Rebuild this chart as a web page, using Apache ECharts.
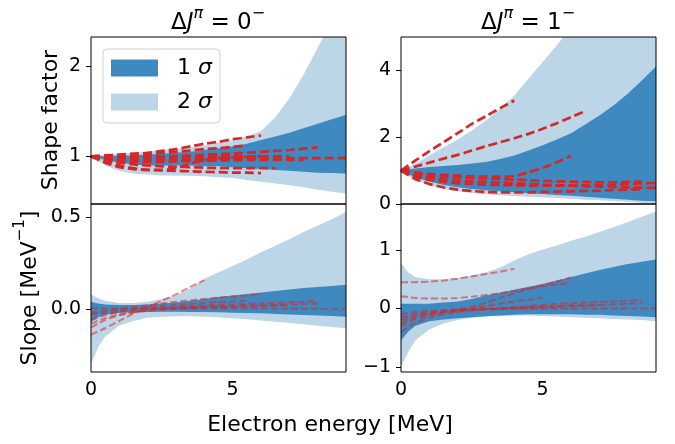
<!DOCTYPE html>
<html><head><meta charset="utf-8">
<script src="https://cdn.jsdelivr.net/npm/echarts@6/dist/echarts.min.js"></script>
<style>html,body{margin:0;padding:0;background:#fff}#c{width:675px;height:444px}</style>
</head><body><div id="c"></div>
<script>
// ---------- data ----------
const xBand = [0,0.25,0.5,1,1.5,2,2.5,3,3.5,4,4.5,5,5.5,6,6.5,7,7.5,8,8.5,9];
const xLine = [0,0.5,1,1.5,2,2.5,3,3.5,4,4.5,5,5.5,6,6.5,7,7.5,8,8.5,9];

// Delta J = 0-, shape factor
const tl2sHi = [1.0,1.01,1.02,1.03,1.04,1.05,1.07,1.08,1.1,1.12,1.15,1.18,1.22,1.28,1.43,1.64,1.9,2.2,2.5,2.85];
const tl2sLo = [1.0,0.95,0.9,0.84,0.81,0.8,0.79,0.79,0.785,0.78,0.77,0.76,0.74,0.72,0.7,0.68,0.66,0.63,0.61,0.59];
const tl1sHi = [1.0,1.0,1.0,1.01,1.01,1.02,1.03,1.04,1.05,1.07,1.09,1.11,1.14,1.18,1.22,1.26,1.31,1.36,1.41,1.46];
const tl1sLo = [1.0,0.98,0.96,0.93,0.91,0.9,0.9,0.9,0.9,0.89,0.89,0.88,0.87,0.86,0.85,0.84,0.83,0.82,0.815,0.81];
const tlLines = [
  [1.0,1.01,1.02,1.03,1.04,1.06,1.08,1.11,1.14,1.16,1.19,1.21,1.23],
  [1.0,1.005,1.01,1.02,1.03,1.04,1.05,1.065,1.08,1.09,1.105,1.12],
  [1.0,1.0,0.995,0.995,1.0,1.0,1.005,1.01,1.02,1.025,1.03,1.04,1.05,1.06,1.07,1.085,1.1],
  [1.0,0.98,0.97,0.965,0.965,0.965,0.965,0.965,0.97,0.97,0.97,0.975,0.975,0.975,0.98,0.98,0.98,0.98,0.98],
  [1.0,0.99,0.985,0.985,0.99,0.99,0.99,0.995,0.995,1.0,1.0,1.0,1.0,1.0,1.0],
  [1.0,0.97,0.95,0.94,0.94,0.94,0.945,0.95,0.95,0.955,0.955,0.96,0.96,0.96,0.96,0.96],
  [1.0,0.95,0.9,0.87,0.85,0.85,0.87,0.92,0.96,0.98,0.99,0.995,1.0],
  [1.0,0.96,0.93,0.91,0.9,0.89,0.885,0.88,0.875,0.87,0.87,0.87,0.87,0.87],
  [1.0,0.93,0.88,0.86,0.85,0.845,0.84,0.835,0.83,0.825,0.82,0.82,0.815]
];

// Delta J = 1-, shape factor
const tr2sHi = [1.0,1.1,1.2,1.45,1.7,1.93,2.2,2.5,2.85,3.25,3.75,4.25,4.75,5.3,5.9,6.5,7.1,7.8,8.5,9.2];
const tr2sLo = [1.0,0.84,0.72,0.56,0.45,0.38,0.33,0.29,0.26,0.24,0.22,0.2,0.18,0.16,0.13,0.11,0.09,0.07,0.04,0.02];
const tr1sHi = [1.0,1.03,1.06,1.11,1.14,1.17,1.21,1.26,1.35,1.45,1.6,1.76,1.93,2.12,2.38,2.65,2.95,3.3,3.7,4.12];
const tr1sLo = [1.0,0.89,0.8,0.67,0.57,0.5,0.45,0.41,0.38,0.35,0.32,0.3,0.27,0.25,0.22,0.19,0.16,0.13,0.1,0.08];
const trLines = [
  [1.0,1.3,1.58,1.85,2.12,2.4,2.63,2.87,3.1],
  [1.0,1.12,1.24,1.36,1.47,1.6,1.73,1.85,1.97,2.1,2.25,2.42,2.6,2.78],
  [1.0,0.95,0.9,0.87,0.85,0.83,0.82,0.82,0.84,0.95,1.08,1.25,1.44],
  [1.0,0.9,0.85,0.82,0.8,0.78,0.77,0.75,0.73,0.71,0.69,0.68,0.67,0.66,0.65,0.65,0.66,0.67],
  [1.0,0.85,0.78,0.73,0.7,0.68,0.66,0.64,0.62,0.6,0.58,0.56,0.55,0.53,0.52,0.51,0.5,0.49,0.48],
  [1.0,0.75,0.6,0.5,0.43,0.39,0.36,0.35,0.35,0.35,0.36,0.37,0.38,0.39,0.4,0.42,0.43,0.45],
  [1.0,0.82,0.72,0.66,0.62,0.6,0.58,0.57,0.56,0.55,0.55,0.55,0.55,0.56,0.57,0.58,0.6,0.62,0.63]
];

// Delta J = 0-, slope
const bl2sHi = [0.08,0.058,0.045,0.033,0.032,0.04,0.055,0.075,0.11,0.165,0.2,0.235,0.27,0.31,0.345,0.38,0.42,0.455,0.49,0.53];
const bl2sLo = [-0.3,-0.21,-0.15,-0.09,-0.065,-0.048,-0.042,-0.04,-0.04,-0.042,-0.045,-0.05,-0.056,-0.063,-0.07,-0.077,-0.084,-0.091,-0.098,-0.105];
const bl1sHi = [0.04,0.03,0.025,0.022,0.022,0.025,0.03,0.036,0.045,0.055,0.065,0.073,0.082,0.09,0.098,0.106,0.114,0.12,0.126,0.132];
const bl1sLo = [-0.07,-0.045,-0.032,-0.022,-0.018,-0.016,-0.015,-0.015,-0.016,-0.017,-0.018,-0.02,-0.022,-0.024,-0.027,-0.03,-0.033,-0.036,-0.039,-0.042];
const blLines = [
  [-0.14,-0.105,-0.065,-0.025,0.01,0.045,0.08,0.12,0.158],
  [-0.02,-0.01,0.0,0.01,0.02,0.03,0.04,0.048,0.055,0.062,0.068,0.074,0.08],
  [-0.06,-0.035,-0.015,-0.002,0.008,0.016,0.022,0.028,0.033,0.037,0.041,0.045],
  [-0.1,-0.06,-0.035,-0.018,-0.006,0.003,0.01,0.015,0.019,0.022,0.025,0.028,0.031,0.034,0.037,0.04,0.044],
  [0.004,0.003,0.003,0.003,0.003,0.003,0.003,0.003,0.003,0.003,0.003,0.003,0.002,0.002,0.002,0.002,0.001,0.001,0.0],
  [-0.03,-0.02,-0.01,-0.004,0.0,0.004,0.007,0.01,0.012,0.014,0.016,0.018,0.02,0.022,0.024,0.027,0.03],
  [-0.08,-0.05,-0.03,-0.018,-0.01,-0.004,0.0,0.004,0.007,0.01,0.012,0.014,0.016,0.018,0.02]
];

// Delta J = 1-, slope
const br2sHi = [0.78,0.62,0.54,0.5,0.5,0.52,0.56,0.62,0.7,0.82,0.93,1.01,1.08,1.16,1.23,1.31,1.39,1.48,1.57,1.66];
const br2sLo = [-1.0,-0.75,-0.55,-0.36,-0.26,-0.2,-0.16,-0.14,-0.13,-0.12,-0.12,-0.13,-0.14,-0.15,-0.16,-0.17,-0.18,-0.19,-0.2,-0.22];
const br1sHi = [0.08,0.08,0.08,0.08,0.1,0.12,0.16,0.22,0.27,0.32,0.37,0.42,0.48,0.54,0.6,0.66,0.71,0.76,0.8,0.84];
const br1sLo = [-0.55,-0.4,-0.3,-0.22,-0.19,-0.17,-0.15,-0.135,-0.12,-0.11,-0.1,-0.1,-0.1,-0.1,-0.11,-0.11,-0.12,-0.13,-0.14,-0.15];
const brLines = [
  [0.45,0.45,0.46,0.48,0.51,0.55,0.59,0.63,0.68],
  [0.21,0.18,0.17,0.17,0.18,0.2,0.23,0.26,0.3,0.34,0.38,0.41,0.44],
  [-0.2,-0.12,-0.08,-0.05,-0.02,0.03,0.1,0.18,0.26,0.33,0.4,0.46,0.53],
  [-0.3,-0.18,-0.12,-0.07,-0.03,0.0,0.04,0.08,0.12,0.15,0.18],
  [-0.15,-0.1,-0.07,-0.05,-0.03,-0.02,-0.01,0.0,0.02,0.04,0.06,0.08,0.09,0.1,0.11,0.12,0.13,0.15],
  [-0.1,-0.06,-0.04,-0.03,-0.02,-0.015,-0.01,-0.01,-0.005,-0.005,0.0,0.0,0.0,0.0,0.0,0.0,0.0,0.0,0.0],
  [-0.25,-0.15,-0.1,-0.07,-0.05,-0.03,-0.02,-0.01,0.0,0.01,0.02,0.03,0.04,0.05,0.06,0.07,0.08,0.09],
  [-0.4,-0.25,-0.16,-0.1,-0.06,-0.03,-0.01,0.0,0.01,0.02,0.03,0.04,0.05,0.05,0.06]
];

const xTicks = [0, 5];
const tlTicks = [1, 2];
const trTicks = [0, 2, 4];
const blTicks = [0, 0.5];
const brTicks = [-1, 0, 1];
const legendNames = ['1 σ', '2 σ'];

// ---------- styles ----------
const FONT = 'DejaVu Sans';
const C1 = '#3e8ac0';
const C2 = '#bcd6e8';
const RED = '#d62728';

function band(name, idx, lo, hi, color) {
  return {
    type: 'custom', name: name, xAxisIndex: idx, yAxisIndex: idx, clip: true,
    silent: true, itemStyle: {color: color},
    data: xBand.map((x, i) => [x, lo[i], hi[i]]),
    encode: {x: 0, y: [1, 2]},
    renderItem: function (params, api) {
      if (params.dataIndex !== 0) return null;
      const pts = [];
      for (let i = 0; i < xBand.length; i++) pts.push(api.coord([xBand[i], hi[i]]));
      for (let i = xBand.length - 1; i >= 0; i--) pts.push(api.coord([xBand[i], lo[i]]));
      return {type: 'polygon', shape: {points: pts}, style: {fill: color}};
    }
  };
}
function lines(arr, idx, top) {
  return arr.map(ys => ({
    type: 'line', xAxisIndex: idx, yAxisIndex: idx, silent: true,
    showSymbol: false, symbol: 'none', smooth: 0.2,
    data: ys.map((v, i) => [xLine[i], v]),
    lineStyle: top ? {color: RED, width: 2.7, type: [9, 4]}
                   : {color: 'rgba(214,39,40,0.55)', width: 2, type: [7, 3]}
  }));
}
const minus = v => (v < 0 ? '\u2212' + Math.abs(v) : String(v));
function xAx(idx, show) {
  return {
    type: 'value', gridIndex: idx, min: 0, max: 9,
    axisLine: {show: false}, splitLine: {show: false},
    axisTick: {show: show, length: 5, lineStyle: {color: '#000', width: 1}, customValues: xTicks},
    axisLabel: {show: show, customValues: xTicks, fontSize: 19, fontFamily: FONT, color: '#000', margin: 9}
  };
}
function yAx(idx, min, max, ticks, fmt) {
  return {
    type: 'value', gridIndex: idx, min: min, max: max,
    axisLine: {show: false}, splitLine: {show: false},
    axisTick: {show: true, length: 5, lineStyle: {color: '#000', width: 1}, customValues: ticks},
    axisLabel: {customValues: ticks, fontSize: 19, fontFamily: FONT, color: '#000', margin: 10, formatter: fmt}
  };
}
const gridBase = {show: true, z: 10, backgroundColor: 'transparent', borderColor: '#000', borderWidth: 1, containLabel: false, outerBoundsMode: 'none'};

const supRich = {
  a: {fontSize: 22, fontFamily: FONT, color: '#000', lineHeight: 28, verticalAlign: 'bottom'},
  i: {fontSize: 22, fontFamily: FONT, color: '#000', lineHeight: 28, verticalAlign: 'bottom', fontStyle: 'italic'},
  s: {fontSize: 15, fontFamily: FONT, color: '#000', lineHeight: 15, verticalAlign: 'top'},
  si: {fontSize: 15, fontFamily: FONT, color: '#000', lineHeight: 15, verticalAlign: 'top', fontStyle: 'italic'}
};
const titleRich = {
  a: {fontSize: 23, fontFamily: FONT, color: '#000', lineHeight: 29, verticalAlign: 'bottom'},
  i: {fontSize: 23, fontFamily: FONT, color: '#000', lineHeight: 29, verticalAlign: 'bottom', fontStyle: 'italic'},
  s: {fontSize: 16, fontFamily: FONT, color: '#000', lineHeight: 16, verticalAlign: 'top'},
  si: {fontSize: 16, fontFamily: FONT, color: '#000', lineHeight: 16, verticalAlign: 'top', fontStyle: 'italic'}
};

const chart = echarts.init(document.getElementById('c'), null, {renderer: 'canvas'});
chart.setOption({
  animation: false,
  backgroundColor: '#fff',
  grid: [
    Object.assign({left: 91, top: 37, width: 255, height: 167}, gridBase),
    Object.assign({left: 401, top: 37, width: 255, height: 167}, gridBase),
    Object.assign({left: 91, top: 204, width: 255, height: 168}, gridBase),
    Object.assign({left: 401, top: 204, width: 255, height: 168}, gridBase)
  ],
  xAxis: [xAx(0, false), xAx(1, false), xAx(2, true), xAx(3, true)],
  yAxis: [
    yAx(0, 0.474, 2.318, tlTicks, v => String(v)),
    yAx(1, 0, 5, trTicks, v => String(v)),
    yAx(2, -0.344, 0.573, blTicks, v => v.toFixed(1)),
    yAx(3, -1.09, 1.79, brTicks, minus)
  ],
  legend: {
    data: legendNames, left: 103, top: 49, orient: 'vertical', selectedMode: false,
    icon: 'rect', itemWidth: 47, itemHeight: 17, itemGap: 12,
    padding: [8, 8, 10, 8], borderColor: '#d0d0d0', borderWidth: 1, borderRadius: 4,
    backgroundColor: 'rgba(255,255,255,0.8)', z: 20,
    formatter: n => '{n|' + n.split(' ')[0] + ' }{g|σ}',
    textStyle: {padding: [0, 0, 0, 14], lineHeight: 22,
      rich: {n: {fontSize: 22, fontFamily: FONT, color: '#000'},
             g: {fontSize: 22, fontFamily: FONT, color: '#000', fontStyle: 'italic'}}}
  },
  graphic: [
    {type: 'text', x: 218, y: 20, style: {text: '{a|Δ}{i|J}{si|π}{a| = 0}{s|\u2212}', rich: titleRich, align: 'center', verticalAlign: 'middle'}},
    {type: 'text', x: 528, y: 20, style: {text: '{a|Δ}{i|J}{si|π}{a| = 1}{s|\u2212}', rich: titleRich, align: 'center', verticalAlign: 'middle'}},
    {type: 'text', x: 51, y: 120, rotation: Math.PI / 2, style: {text: 'Shape factor', font: '22px "DejaVu Sans"', fill: '#000', align: 'center', verticalAlign: 'middle'}},
    {type: 'text', x: 27, y: 288, rotation: Math.PI / 2, style: {text: '{a|Slope [MeV}{s|\u22121}{a|]}', rich: supRich, align: 'center', verticalAlign: 'middle'}},
    {type: 'text', x: 330, y: 425, style: {text: 'Electron energy [MeV]', font: '22px "DejaVu Sans"', fill: '#000', align: 'center', verticalAlign: 'middle'}}
  ],
  series: [].concat(
    band('2 σ', 0, tl2sLo, tl2sHi, C2), band('1 σ', 0, tl1sLo, tl1sHi, C1), lines(tlLines, 0, true),
    band('2 σ', 1, tr2sLo, tr2sHi, C2), band('1 σ', 1, tr1sLo, tr1sHi, C1), lines(trLines, 1, true),
    band('2 σ', 2, bl2sLo, bl2sHi, C2), band('1 σ', 2, bl1sLo, bl1sHi, C1), lines(blLines, 2, false),
    band('2 σ', 3, br2sLo, br2sHi, C2), band('1 σ', 3, br1sLo, br1sHi, C1), lines(brLines, 3, false)
  )
});
</script></body></html>
